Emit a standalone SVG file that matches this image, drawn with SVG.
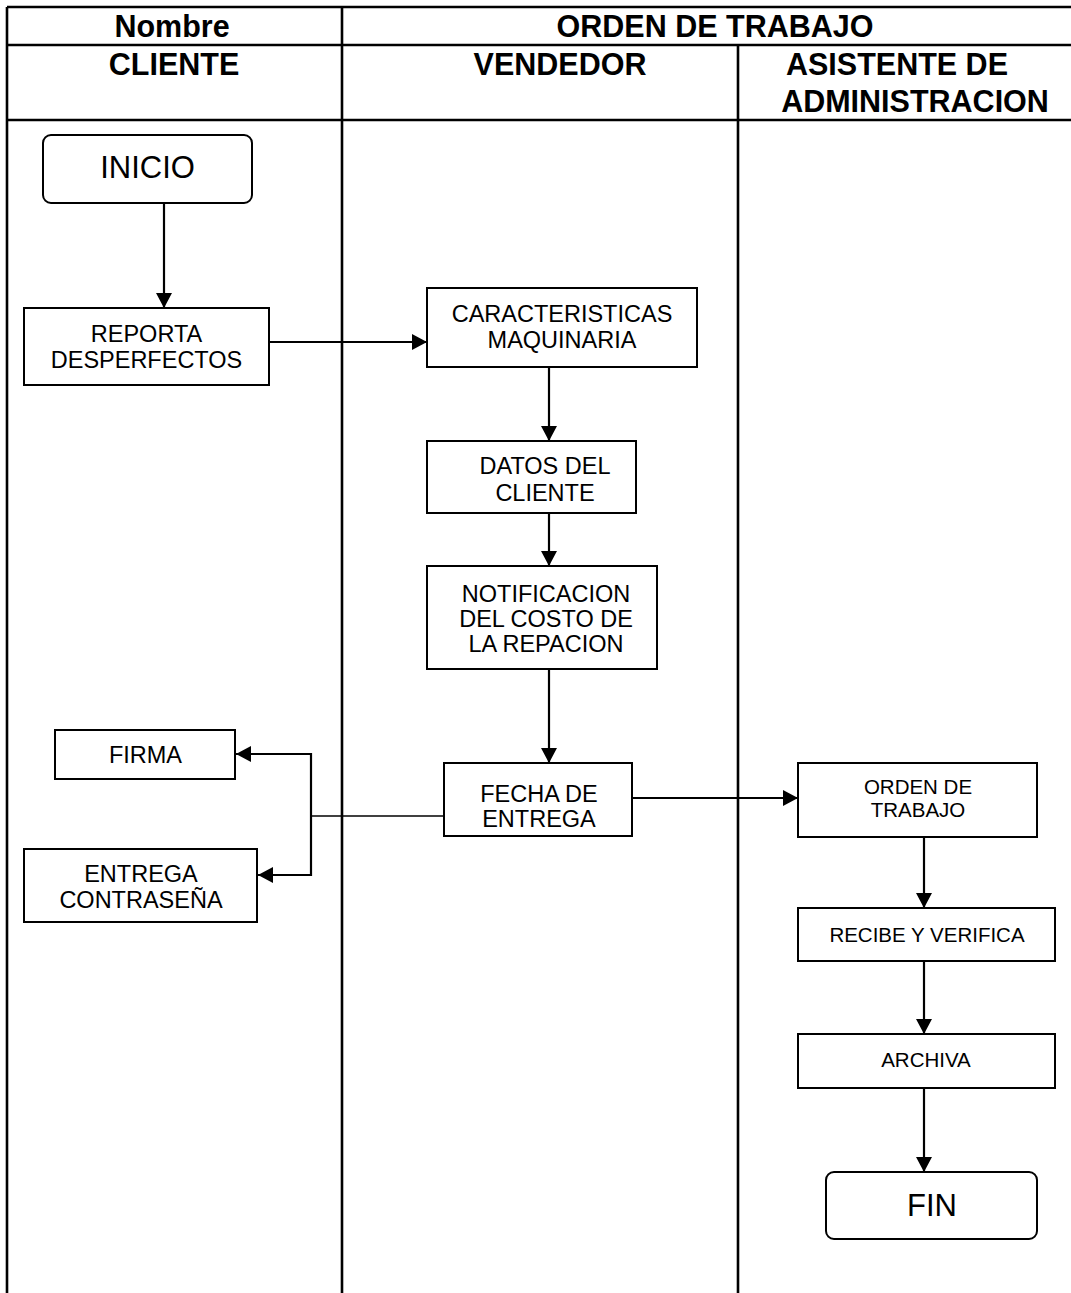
<svg xmlns="http://www.w3.org/2000/svg" width="1071" height="1293" viewBox="0 0 1071 1293">
<style>
.grid{stroke:#000;stroke-width:2.6;fill:none}
.box{fill:#fff;stroke:#000;stroke-width:2}
.hd{font-family:"Liberation Sans",Arial,sans-serif;font-weight:bold;font-size:30.5px;text-anchor:middle;fill:#000}
.t{font-family:"Liberation Sans",Arial,sans-serif;font-size:23.5px;text-anchor:middle;fill:#000}
.ts{font-family:"Liberation Sans",Arial,sans-serif;font-size:20.5px;text-anchor:middle;fill:#000}
.tb{font-family:"Liberation Sans",Arial,sans-serif;font-size:31px;text-anchor:middle;fill:#000}
.c{stroke:#000;stroke-width:2.2;fill:none}
.cthin{stroke:#000;stroke-width:1.5;fill:none}
</style>
<defs>
<marker id="ah" viewBox="0 0 15 16" markerWidth="15" markerHeight="16" refX="15" refY="8" orient="auto" markerUnits="userSpaceOnUse">
<path d="M0,0 L15,8 L0,16 z" fill="#000"/>
</marker>
</defs>
<rect width="1071" height="1293" fill="#fff"/>
<g id="table">
<path class="grid" d="M7,7 H1071 M7,45 H1071 M7,120 H1071 M7,7 V1293 M342,7 V1293 M738,45 V1293"/>
<text class="hd" x="172" y="37">Nombre</text>
<text class="hd" x="715" y="37">ORDEN DE TRABAJO</text>
<text class="hd" x="174" y="75">CLIENTE</text>
<text class="hd" x="560" y="75">VENDEDOR</text>
<text class="hd" x="897" y="75">ASISTENTE DE</text>
<text class="hd" x="915" y="112">ADMINISTRACION</text>
</g>
<g id="connectors">
<path class="c" d="M164,203 V308" marker-end="url(#ah)"/>
<path class="c" d="M269,342 H427" marker-end="url(#ah)"/>
<path class="c" d="M549,367 V441" marker-end="url(#ah)"/>
<path class="c" d="M549,513 V566" marker-end="url(#ah)"/>
<path class="c" d="M549,669 V763" marker-end="url(#ah)"/>
<path class="cthin" d="M444,816 H311"/>
<path class="c" d="M311,816 V754 H236" marker-end="url(#ah)"/>
<path class="c" d="M311,816 V875 H258" marker-end="url(#ah)"/>
<path class="c" d="M632,798 H798" marker-end="url(#ah)"/>
<path class="c" d="M924,837 V908" marker-end="url(#ah)"/>
<path class="c" d="M924,961 V1034" marker-end="url(#ah)"/>
<path class="c" d="M924,1088 V1172" marker-end="url(#ah)"/>
</g>
<g id="inicio">
<rect class="box" x="43" y="135" width="209" height="68" rx="8"/>
<text class="tb" x="147.5" y="178">INICIO</text>
</g>
<g id="reporta">
<rect class="box" x="24" y="308" width="245" height="77"/>
<text class="t" x="146.5" y="342">REPORTA</text>
<text class="t" x="146.5" y="368">DESPERFECTOS</text>
</g>
<g id="caracteristicas">
<rect class="box" x="427" y="288" width="270" height="79"/>
<text class="t" x="562" y="322">CARACTERISTICAS</text>
<text class="t" x="562" y="348">MAQUINARIA</text>
</g>
<g id="datos">
<rect class="box" x="427" y="441" width="209" height="72"/>
<text class="t" x="545" y="474">DATOS DEL</text>
<text class="t" x="545" y="501">CLIENTE</text>
</g>
<g id="notificacion">
<rect class="box" x="427" y="566" width="230" height="103"/>
<text class="t" x="546" y="602">NOTIFICACION</text>
<text class="t" x="546" y="627">DEL COSTO DE</text>
<text class="t" x="546" y="652">LA REPACION</text>
</g>
<g id="fecha">
<rect class="box" x="444" y="763" width="188" height="73"/>
<text class="t" x="539" y="802">FECHA DE</text>
<text class="t" x="539" y="827">ENTREGA</text>
</g>
<g id="firma">
<rect class="box" x="55" y="730" width="180" height="49"/>
<text class="t" x="145.5" y="763">FIRMA</text>
</g>
<g id="entrega">
<rect class="box" x="24" y="849" width="233" height="73"/>
<text class="t" x="141" y="882">ENTREGA</text>
<text class="t" x="141" y="908">CONTRASEÑA</text>
</g>
<g id="orden">
<rect class="box" x="798" y="763" width="239" height="74"/>
<text class="ts" x="918" y="794">ORDEN DE</text>
<text class="ts" x="918" y="817">TRABAJO</text>
</g>
<g id="recibe">
<rect class="box" x="798" y="908" width="257" height="53"/>
<text class="ts" x="927" y="942">RECIBE Y VERIFICA</text>
</g>
<g id="archiva">
<rect class="box" x="798" y="1034" width="257" height="54"/>
<text class="ts" x="926" y="1067">ARCHIVA</text>
</g>
<g id="fin">
<rect class="box" x="826" y="1172" width="211" height="67" rx="8"/>
<text class="tb" x="932" y="1216">FIN</text>
</g>
</svg>
